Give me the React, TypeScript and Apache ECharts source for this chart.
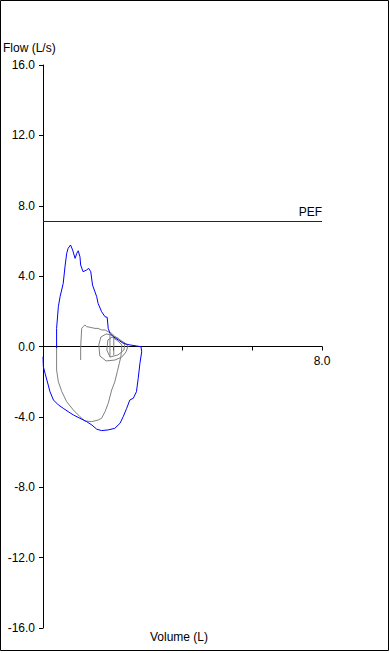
import React, { useEffect, useRef } from "react";
import * as echarts from "echarts";

// Blue trial (best effort): volume (L) and flow (L/s), drawn in recording order
const blueVolume = [
  0.39, 0.39, 0.44, 0.49, 0.58, 0.63, 0.68, 0.72, 0.79, 0.85, 0.92, 0.97, 1.01, 1.06, 1.08,
  1.15, 1.25, 1.31, 1.37, 1.42, 1.49, 1.54, 1.58, 1.68, 1.78, 1.84, 1.87, 1.92, 2.01, 2.16,
  2.3, 2.49, 2.68, 2.81, 2.83, 2.78, 2.73, 2.68, 2.59, 2.49, 2.4, 2.3, 2.21, 2.06, 1.87,
  1.68, 1.54, 1.4, 1.25, 1.06, 0.87, 0.72, 0.58, 0.44, 0.3, 0.2, 0.15, 0.06, 0.01, 0.0,
];
const blueFlow = [
  -0.09, 1.03, 2.26, 2.83, 3.59, 4.53, 5.3, 5.58, 5.77, 5.48, 5.01, 5.3, 5.44, 5.1, 4.63,
  4.25, 4.35, 4.44, 4.25, 3.49, 3.11, 2.83, 2.45, 1.98, 1.69, 1.66, 1.03, 0.75, 0.56, 0.37,
  0.18, 0.09, 0.03, -0.01, -0.3, -0.95, -1.81, -2.57, -2.94, -3.04, -3.51, -3.99, -4.36, -4.65, -4.74,
  -4.78, -4.7, -4.46, -4.27, -4.08, -3.89, -3.7, -3.51, -3.32, -3.04, -2.57, -2.19, -1.53, -1.15, -0.58,
];

// Grey trial: volume (L) and flow (L/s)
const grayVolume = [
  1.08, 1.08, 1.11, 1.15, 1.2, 1.25, 1.35, 1.49, 1.58, 1.68, 1.78, 1.87, 1.97, 2.06, 2.16,
  2.26, 2.35, 2.44, 2.38, 2.26, 2.06, 1.81, 1.63, 1.6, 1.66, 1.81, 1.98, 2.21, 2.35, 2.32,
  2.15, 1.92, 1.83, 1.86, 1.98, 2.15, 2.26, 2.25, 2.23, 2.19, 2.13, 2.06, 1.97, 1.87, 1.78,
  1.68, 1.58, 1.4, 1.2, 1.06, 0.87, 0.68, 0.54, 0.44, 0.39, 0.39,
];
const grayFlow = [
  -0.77, -0.01, 1.03, 1.13, 1.22, 1.13, 1.09, 1.03, 1.03, 0.94, 0.94, 0.84, 0.75, 0.56, 0.47,
  0.27, 0.18, 0.03, -0.31, -0.6, -0.77, -0.82, -0.54, 0.09, 0.54, 0.71, 0.65, 0.37, 0.2, -0.2,
  -0.48, -0.6, -0.2, 0.37, 0.54, 0.31, 0.09, -0.3, -0.58, -0.95, -1.43, -2.0, -2.47, -3.23, -3.7,
  -4.08, -4.18, -4.27, -4.23, -3.99, -3.61, -3.14, -2.57, -2.0, -1.34, 0.09,
];

// Grey tidal strokes
const tidalVolume = [1.92, 1.92, null, 2.03, 2.03];
const tidalFlow = [0.65, -0.6, null, 0.6, -0.5];

const pefValue = 7.1;
const yTicks = [-16, -12, -8, -4, 0, 4, 8, 12, 16];
const xLabelled = [8];

const zip = (xs: (number | null)[], ys: (number | null)[]) =>
  xs.map((x, i) => (x === null || ys[i] === null ? [null, null] : [x, ys[i]]));

const FONT = "'Liberation Sans', Arial, sans-serif";

export default function App() {
  const ref = useRef<HTMLDivElement>(null);
  useEffect(() => {
    document.body.style.margin = "0";
    const chart = echarts.init(ref.current!, null, { renderer: "svg" });
    chart.setOption({
      animation: false,
      backgroundColor: "#ffffff",
      textStyle: { fontFamily: FONT },
      grid: { left: 43, top: 65, width: 279, height: 563 },
      xAxis: {
        type: "value",
        min: 0,
        max: 8,
        interval: 2,
        axisLine: { onZero: true, lineStyle: { color: "#000", width: 1 } },
        axisTick: { show: true, inside: false, length: 4, lineStyle: { color: "#000" } },
        axisLabel: { show: false },
        splitLine: { show: false },
      },
      yAxis: {
        type: "value",
        min: yTicks[0],
        max: yTicks[yTicks.length - 1],
        interval: 4,
        axisLine: { show: true, onZero: false, lineStyle: { color: "#000", width: 1 } },
        axisTick: { show: true, length: 4, lineStyle: { color: "#000" } },
        axisLabel: {
          color: "#000",
          fontSize: 12,
          fontFamily: FONT,
          margin: 8,
          formatter: (v: number) => v.toFixed(1),
        },
        splitLine: { show: false },
      },
      series: [
        {
          type: "line",
          data: zip(grayVolume, grayFlow),
          showSymbol: false,
          connectNulls: false,
          lineStyle: { color: "#808080", width: 1 },
          itemStyle: { color: "#808080" },
          z: 2,
        },
        {
          type: "line",
          data: zip(tidalVolume, tidalFlow),
          showSymbol: false,
          connectNulls: false,
          lineStyle: { color: "#808080", width: 1 },
          z: 2,
        },
        {
          type: "line",
          data: zip(blueVolume, blueFlow),
          showSymbol: false,
          lineStyle: { color: "#0000ff", width: 1 },
          itemStyle: { color: "#0000ff" },
          z: 3,
          markLine: {
            silent: true,
            symbol: ["none", "none"],
            lineStyle: { color: "#1010d0", width: 1, type: "solid" },
            label: {
              show: true,
              position: "insideEndTop",
              formatter: "PEF",
              color: "#000",
              fontSize: 12,
              fontFamily: FONT,
              distance: [0, 4],
            },
            data: [{ yAxis: pefValue }],
          },
        },
      ],
      graphic: [
        {
          type: "rect",
          shape: { x: 0.5, y: 0.5, width: 388, height: 650 },
          style: { fill: "none", stroke: "#000", lineWidth: 1 },
          silent: true,
        },
        {
          type: "text",
          left: 3,
          top: 42,
          style: { text: "Flow (L/s)", fill: "#000", font: `12px ${FONT}` },
        },
        {
          type: "text",
          x: 179,
          y: 637,
          style: {
            text: "Volume (L)",
            fill: "#000",
            font: `12px ${FONT}`,
            align: "center",
            verticalAlign: "middle",
          },
        },
      ],
    });
    // x-axis labels placed under the zero-line axis through the chart's own scale
    const labels = xLabelled.map((v) => {
      const p = chart.convertToPixel({ gridIndex: 0 }, [v, 0]) as number[];
      return {
        type: "text",
        x: p[0],
        y: p[1] + 14,
        style: {
          text: v.toFixed(1),
          fill: "#000",
          font: `12px ${FONT}`,
          align: "center",
          verticalAlign: "middle",
        },
      };
    });
    chart.setOption({
      graphic: [
        {
          type: "rect",
          shape: { x: 0.5, y: 0.5, width: 388, height: 650 },
          style: { fill: "none", stroke: "#000", lineWidth: 1 },
          silent: true,
        },
        {
          type: "text",
          left: 3,
          top: 42,
          style: { text: "Flow (L/s)", fill: "#000", font: `12px ${FONT}` },
        },
        {
          type: "text",
          x: 179,
          y: 637,
          style: {
            text: "Volume (L)",
            fill: "#000",
            font: `12px ${FONT}`,
            align: "center",
            verticalAlign: "middle",
          },
        },
        ...labels,
      ],
    });
    return () => chart.dispose();
  }, []);
  return <div ref={ref} style={{ width: 390, height: 653 }} />;
}
